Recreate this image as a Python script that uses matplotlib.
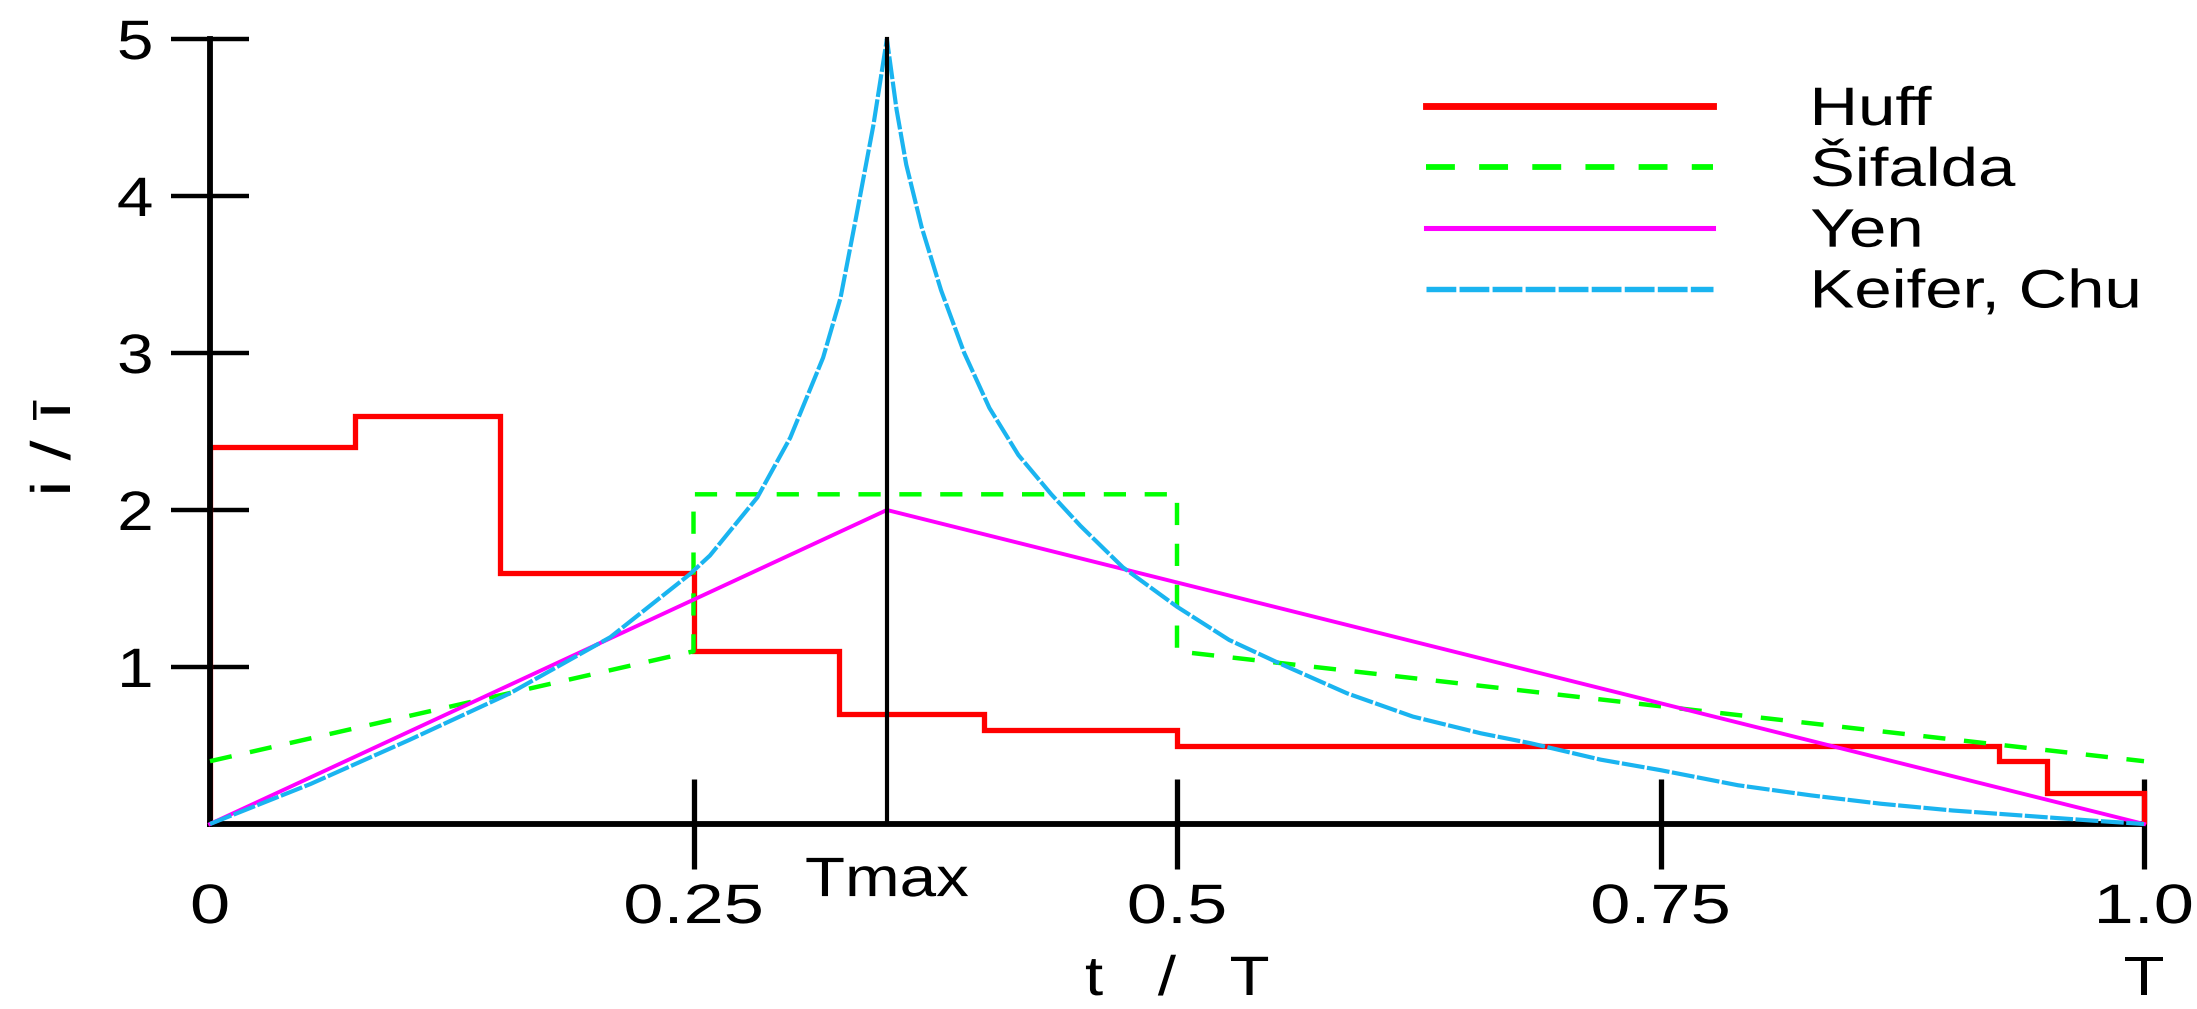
import matplotlib
matplotlib.use("Agg")
import matplotlib.pyplot as plt
from matplotlib.patheffects import AbstractPathEffect
from matplotlib.transforms import Affine2D

plt.rcParams['font.family'] = ['Liberation Sans', 'DejaVu Sans']

# Huff - step hyetograph (edges and values)
huff_edges = [0, 0.075, 0.15, 0.25, 0.325, 0.4, 0.5, 0.925, 0.95, 1.0]
huff_vals = [2.4, 2.6, 1.6, 1.1, 0.7, 0.6, 0.5, 0.4, 0.2]

# Sifalda - trapezoid with rectangle block
sif_t = [0, 0.25, 0.25, 0.5, 0.5, 1.0]
sif_v = [0.4, 1.1, 2.1, 2.1, 1.1, 0.4]

# Yen - triangle
yen_t = [0, 0.35, 1.0]
yen_v = [0, 2, 0]

# Keifer, Chu
kc_t = [0, 0.052, 0.103, 0.155, 0.207, 0.248, 0.2585, 0.283, 0.30, 0.317,
        0.326, 0.334, 0.343, 0.35, 0.355, 0.36, 0.368, 0.378, 0.39, 0.403,
        0.418, 0.435, 0.45, 0.472, 0.50, 0.527, 0.553, 0.588, 0.622, 0.657,
        0.683, 0.719, 0.75, 0.79, 0.828, 0.864, 0.901, 0.937, 0.974, 1.0]
kc_v = [0, 0.255, 0.535, 0.832, 1.19, 1.59, 1.71, 2.08, 2.46, 2.97,
        3.35, 3.86, 4.45, 5.0, 4.55, 4.2, 3.8, 3.4, 3.0, 2.65,
        2.35, 2.1, 1.9, 1.635, 1.384, 1.172, 1.023, 0.832, 0.684, 0.578,
        0.514, 0.41, 0.343, 0.247, 0.182, 0.129, 0.086, 0.054, 0.021, 0]

t_max = 0.35
x_ticks = [0, 0.25, 0.5, 0.75, 1.0]
x_tick_labels = ['0', '0.25', '0.5', '0.75', '1.0']
y_ticks = [1, 2, 3, 4, 5]
labels = ['Huff', 'Šifalda', 'Yen', 'Keifer, Chu']

FS = 40
SX = 1.18  # the source text is drawn wide


class Stretch(AbstractPathEffect):
    """widen text along its baseline around a point of its ink box"""
    def __init__(self, sx, anchor=0.5):
        super().__init__()
        self.sx = sx
        self.anchor = anchor

    def draw_path(self, renderer, gc, tpath, affine, rgbFace=None):
        ext = tpath.get_extents()
        x0 = ext.x0 + self.anchor * ext.width
        pre = Affine2D().translate(-x0, 0).scale(self.sx, 1).translate(x0, 0)
        renderer.draw_path(gc, tpath, pre + affine, rgbFace)


fig = plt.figure(figsize=(21.97, 10.09), dpi=100)
ax = fig.add_axes([210 / 2197, 1 - 824 / 1009, 1934 / 2197, 785 / 1009])

ax.stairs(huff_vals, huff_edges, baseline=0, color='#ff0000', lw=3.8,
          label=labels[0], clip_on=False, zorder=3)
ax.plot(sif_t, sif_v, color='#00ff00', lw=3.2, dashes=(5, 4.2),
        label=labels[1], clip_on=False, zorder=4)
ax.plot(yen_t, yen_v, color='#ff00ff', lw=2.8, label=labels[2],
        clip_on=False, zorder=4)
ax.plot(kc_t, kc_v, color='#1ab4f0', lw=3.0, dashes=(5.5, 0.6),
        label=labels[3], clip_on=False, zorder=5)

# Tmax line
ax.plot([t_max, t_max], [0, 5], color='black', lw=3.0, zorder=6, clip_on=False)

ax.set_xlim(0, 1)
ax.set_ylim(0, 5)
for s in ['top', 'right']:
    ax.spines[s].set_visible(False)
for s in ['left', 'bottom']:
    ax.spines[s].set_linewidth(4.2)
ax.spines['left'].set_zorder(3.5)  # y axis stays black over the Huff edge

ax.set_xticks(x_ticks)
ax.set_xticklabels(x_tick_labels)
ax.set_yticks(y_ticks)
ax.tick_params(axis='x', direction='inout', length=65, width=3.8, pad=10,
               labelsize=FS)
ax.tick_params(axis='y', direction='inout', length=56, width=3.2, pad=13,
               labelsize=FS)
ax.xaxis.get_major_ticks()[0].tick1line.set_visible(False)

for lab in ax.get_xticklabels():
    lab.set_path_effects([Stretch(1.3, 0.5)])
for lab in ax.get_yticklabels():
    lab.set_path_effects([Stretch(SX, 1.0)])

for x, y, s in [(t_max, -0.37, 'Tmax'), (0.5, -1.0, 't   /   T'), (1.0, -1.0, 'T')]:
    ax.text(x, y, s, ha='center', va='center', fontsize=FS,
            path_effects=[Stretch(SX, 0.5)])
fig.text(56 / 2197, 1 - 448 / 1009, 'i / ī', rotation=90, ha='center',
         va='center', fontsize=FS, path_effects=[Stretch(1.3, 0.5)])

leg = ax.legend(loc='upper left', bbox_to_anchor=(1426 / 2197, 1 - 86 / 1009),
                bbox_transform=fig.transFigure, frameon=False, fontsize=39,
                borderpad=0, handlelength=5.3, handletextpad=1.8,
                labelspacing=0.2, borderaxespad=0)
for txt in leg.get_texts():
    txt.set_path_effects([Stretch(1.24, 0.0)])
for h in leg.get_lines():
    h.set_linewidth(h.get_linewidth() * 1.3)

fig.savefig('out.png', dpi=100)
